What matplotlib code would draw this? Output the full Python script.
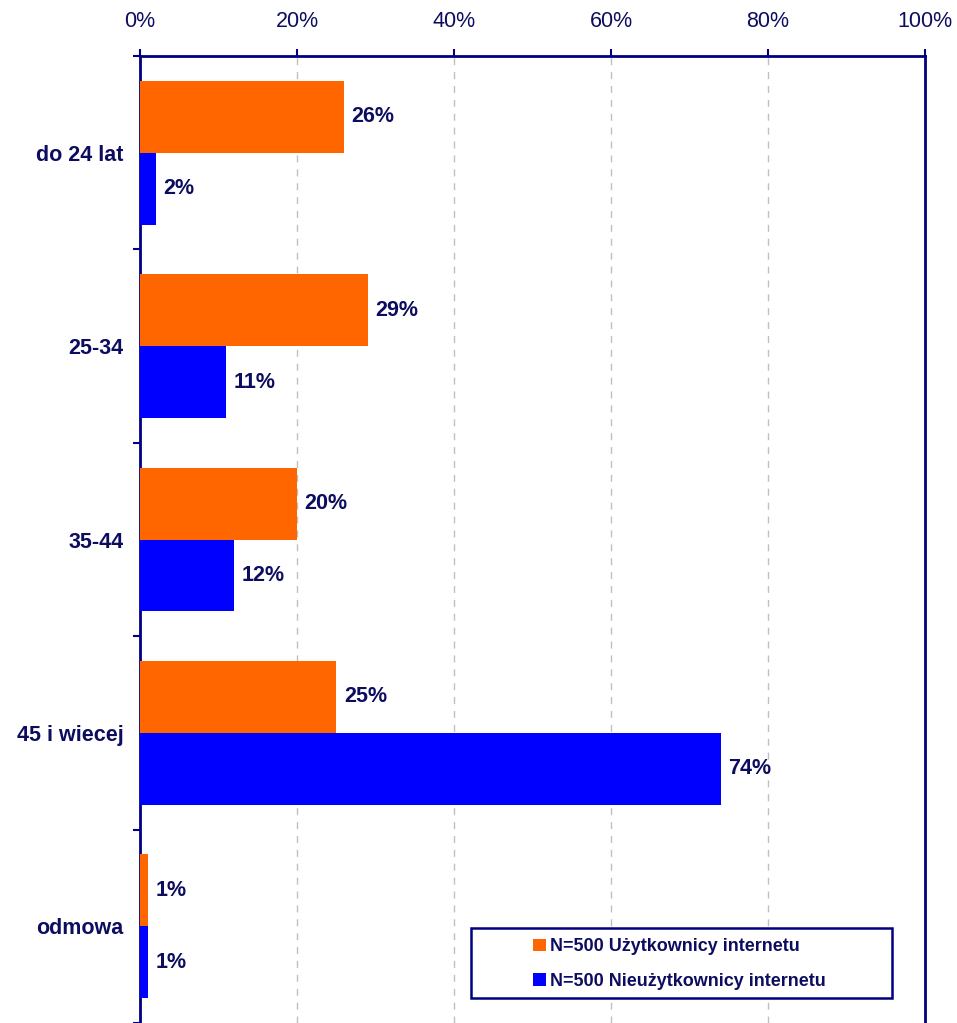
import numpy as np
import matplotlib
matplotlib.use("Agg")
import matplotlib.pyplot as plt
from matplotlib.patches import Rectangle

plt.rcParams['font.family'] = ['Liberation Sans', 'DejaVu Sans']

# data
categories = ['do 24 lat', '25-34', '35-44', '45 i wiecej', 'odmowa']
users = [26, 29, 20, 25, 1]
non_users = [2, 11, 12, 74, 1]
series_names = ['N=500 Użytkownicy internetu', 'N=500 Nieużytkownicy internetu']
xticks = [0, 20, 40, 60, 80, 100]

navy = '#000080'
txt = '#0D0D60'
orange = '#FF6600'
blue = '#0000FF'

fig = plt.figure(figsize=(9.57, 10.23), dpi=100)
ax = fig.add_axes([140/957, 0.0, 785/957, 1 - 56/1023])

y = np.arange(len(categories))
h = 0.372
b1 = ax.barh(y - h/2, users, height=h, color=orange, label=series_names[0], zorder=3)
b2 = ax.barh(y + h/2, non_users, height=h, color=blue, label=series_names[1], zorder=3)

for bars, vals in ((b1, users), (b2, non_users)):
    for bar, v in zip(bars, vals):
        ax.annotate('%d%%' % v, (v, bar.get_y() + bar.get_height()/2),
                    xytext=(5.5, 0), textcoords='offset points',
                    ha='left', va='center', fontsize=15.5, fontweight='bold', color=txt)

ax.set_xlim(0, 100)
ax.set_ylim(len(categories) - 0.5, -0.5)

# x axis on top
ax.xaxis.tick_top()
ax.set_xticks(xticks)
ax.set_xticklabels(['%d%%' % t for t in xticks], fontsize=15.5, color=txt)
ax.tick_params(axis='x', direction='out', length=5, width=1.5, color=navy, pad=12)
ax.grid(axis='x', color='#C0C0C0', linestyle=(0, (5, 5)), linewidth=1, zorder=0)

# y axis: ticks at boundaries, labels at centres
ax.set_yticks(np.arange(len(categories) + 1) - 0.5)
ax.set_yticklabels([])
ax.set_yticks(y, minor=True)
ax.set_yticklabels(categories, minor=True, fontsize=15.5, fontweight='bold', color=txt)
ax.tick_params(axis='y', which='major', direction='out', length=5, width=1.5, color=navy)
ax.tick_params(axis='y', which='minor', length=0, pad=12)

for s in ['top', 'left', 'right']:
    ax.spines[s].set_color(navy)
    ax.spines[s].set_linewidth(2)
ax.spines['bottom'].set_visible(False)

# legend box
ax.add_patch(Rectangle((0.4217, 0.0259), 0.536, 0.0724, transform=ax.transAxes,
                       facecolor='white', edgecolor=navy, linewidth=1.8, zorder=4))
leg = ax.legend(loc='center', bbox_to_anchor=(0.6870, 0.0610), frameon=False,
                prop={'size': 13, 'weight': 'bold'}, handlelength=0.7, handleheight=0.7,
                handletextpad=0.2, labelspacing=0.95, borderpad=0)
for t in leg.get_texts():
    t.set_color(txt)
leg.set_zorder(5)

fig.savefig('out.png', dpi=100)
